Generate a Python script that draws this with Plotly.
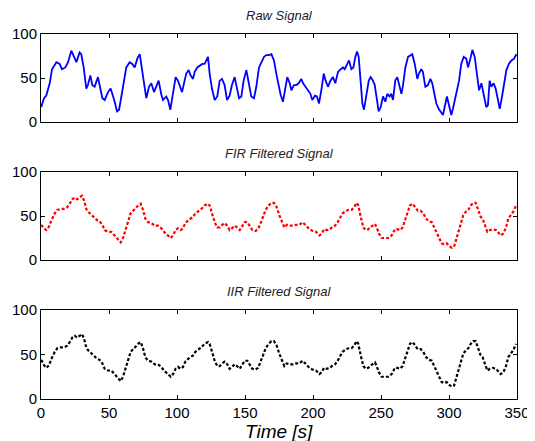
import plotly.graph_objects as go

# ---------------- data ----------------
raw_t = [0.2, 2.2, 3.9, 6.4, 8.1, 11.3, 13.7, 15.4, 17.9, 19.9, 22.3, 24.3, 26.0, 28.4, 29.6,
         31.4, 33.3, 34.5, 36.3, 37.7, 39.4, 41.9, 43.6, 45.1, 46.8, 49.3, 51.2, 52.9, 54.2,
         55.9, 57.4, 59.1, 61.0, 62.7, 65.2, 67.1, 68.9, 69.6, 70.8, 72.6, 74.3, 76.2, 77.4,
         79.4, 81.1, 83.1, 84.8, 86.5, 88.5, 89.7, 92.1, 93.4, 95.1, 97.1, 99.0, 100.7, 101.9,
         103.7, 105.6, 106.8, 108.6, 110.0, 111.8, 113.0, 114.9, 116.7, 118.6, 120.3, 121.6,
         122.8, 124.0, 125.7, 127.7, 129.6, 131.4, 133.1, 135.0, 136.8, 138.7, 140.4, 142.4,
         144.1, 145.6, 147.3, 149.0, 151.0, 152.7, 154.6, 156.6, 158.3, 160.3, 162.0, 164.0,
         165.7, 167.6, 169.4, 171.3, 173.0, 174.3, 176.2, 177.9, 179.6, 181.1, 182.9, 184.1,
         186.0, 187.7, 189.5, 191.4, 192.7, 194.3, 196.3, 198.1, 199.5, 201.5, 202.9, 204.4,
         206.1, 207.9, 209.3, 211.0, 212.8, 214.7, 216.4, 218.4, 220.4, 222.1, 223.3, 225.0,
         226.5, 228.2, 229.7, 231.1, 232.4, 233.6, 235.1, 236.3, 237.5, 239.2, 241.0, 242.4,
         244.1, 245.4, 246.6, 248.3, 249.8, 251.5, 253.2, 254.6, 256.3, 257.5, 258.8, 260.5,
         262.0, 263.5, 265.0, 266.2, 267.9, 269.9, 271.8, 273.0, 274.8, 276.7, 277.9, 279.6,
         280.8, 282.6, 284.5, 286.3, 287.7, 289.4, 290.7, 292.4, 293.9, 295.6, 296.8, 298.5,
         300.0, 301.7, 302.9, 304.2, 305.9, 307.4, 309.0, 310.8, 312.7, 314.0, 315.7, 317.2,
         318.9, 320.6, 322.1, 323.8, 325.5, 327.4, 328.6, 329.9, 331.1, 332.8, 334.3, 335.5,
         337.3, 339.0, 340.4, 342.2, 344.0, 345.9, 347.9, 349.5]
raw_v = [17, 27, 30, 44, 60, 68, 66, 60, 62, 68, 81, 74, 68, 79, 77,
         62, 38, 42, 53, 42, 40, 51, 40, 27, 25, 34, 38, 30, 23,
         12, 14, 29, 47, 62, 68, 66, 62, 66, 72, 77, 59, 38, 27,
         40, 44, 34, 40, 47, 31, 25, 29, 25, 14, 34, 51, 47, 42,
         34, 47, 55, 59, 53, 49, 57, 62, 64, 66, 66, 70,
         74, 55, 38, 25, 29, 47, 49, 42, 25, 30, 42, 51,
         36, 27, 29, 47, 59, 44, 29, 27, 40, 62, 68, 74,
         76, 76, 77, 70, 55, 45, 31, 23, 36, 51, 44, 36,
         42, 42, 44, 49, 44, 40, 36, 32, 25, 30, 29, 21,
         36, 55, 47, 40, 47, 51, 44, 57, 60, 62, 60, 66,
         70, 60, 62, 74, 80, 74, 44, 21, 14, 29, 47, 51,
         47, 42, 29, 12, 17, 29, 23, 32, 29, 32, 25, 47,
         51, 42, 32, 42, 62, 74, 76, 77, 66, 49, 55, 60,
         57, 40, 42, 49, 44, 32, 21, 15, 12, 8, 17, 29,
         19, 8, 15, 25, 36, 47, 66, 74, 72, 62, 72, 82,
         74, 51, 36, 44, 29, 17, 19, 47, 40, 44, 38, 29,
         15, 29, 44, 59, 66, 70, 72, 77]

fir_t = [0.2, 2.2, 3.9, 5.9, 7.6, 10.1, 12.0, 14.5, 16.9, 19.3, 21.1, 23.0, 24.8, 26.7, 28.4,
         30.1, 31.6, 33.3, 34.5, 37.0, 39.5, 41.4, 43.1, 45.1, 46.8, 49.3, 51.7, 54.2, 56.6,
         58.6, 60.3, 62.0, 64.0, 65.9, 68.4, 70.1, 72.1, 73.3, 75.0, 76.7, 78.7, 81.1, 83.6,
         86.0, 88.5, 90.4, 92.9, 95.4, 97.1, 99.0, 100.7, 102.7, 104.4, 106.1, 108.1, 110.1,
         111.8, 113.5, 115.4, 117.9, 120.3, 122.8, 124.0, 125.7, 127.7, 129.6, 131.4, 133.3,
         135.0, 137.0, 138.7, 140.4, 142.4, 144.1, 146.1, 147.8, 149.8, 151.7, 153.4, 155.4,
         157.6, 159.6, 161.5, 163.2, 165.2, 167.4, 169.4, 171.3, 173.3, 175.2, 177.0, 178.9,
         180.7, 182.6, 185.1, 187.5, 189.9, 192.4, 194.9, 197.3, 199.8, 202.2, 204.7, 206.4,
         208.1, 210.1, 212.5, 214.5, 216.2, 218.2, 219.9, 221.8, 223.5, 225.9, 228.4, 230.2,
         232.1, 233.3, 235.1, 237.0, 238.7, 240.7, 241.9, 243.9, 245.6, 246.8, 248.5, 250.5,
         252.9, 255.4, 257.9, 260.3, 262.0, 264.0, 265.9, 267.6, 269.3, 271.3, 273.3, 275.0,
         277.0, 279.2, 281.1, 283.1, 285.3, 287.3, 289.2, 290.9, 292.9, 294.6, 296.3, 298.3,
         300.0, 302.0, 303.7, 305.1, 306.8, 308.6, 310.5, 312.5, 314.2, 316.0, 317.9, 319.6,
         321.6, 323.3, 324.7, 326.5, 328.2, 330.1, 332.1, 334.6, 336.2, 338.0, 340.0, 341.9,
         343.6, 345.4, 347.3, 349.3]
fir_v = [40, 36, 34, 38, 45, 53, 57, 58, 58, 60, 64, 69, 71, 69, 71,
         73, 68, 58, 55, 51, 47, 45, 44, 40, 34, 32, 32, 28, 23,
         20, 25, 34, 45, 53, 57, 60, 63, 64, 57, 47, 43, 42, 39,
         39, 36, 32, 28, 25, 28, 34, 36, 34, 36, 42, 45, 47,
         49, 53, 55, 58, 62, 64, 62, 53, 43, 37, 37, 40,
         42, 39, 34, 36, 39, 37, 34, 38, 43, 43, 39, 34,
         33, 35, 42, 49, 57, 62, 65, 65, 60, 51, 43, 37,
         40, 39, 39, 40, 40, 43, 39, 35, 33, 32, 28, 30,
         35, 34, 35, 38, 39, 43, 48, 53, 55, 57, 57, 60,
         65, 62, 49, 37, 34, 35, 37, 39, 41, 37, 30, 25,
         25, 25, 28, 35, 35, 34, 37, 45, 55, 62, 64, 60,
         56, 56, 53, 47, 44, 43, 37, 32, 24, 19, 18, 19,
         16, 14, 15, 22, 30, 39, 51, 55, 57, 62, 65, 65,
         57, 49, 47, 39, 32, 34, 35, 34, 31, 28, 30, 37,
         47, 51, 55, 62]

iir_t = list(fir_t)
iir_v = [44, 38, 35, 38, 45, 53, 57, 58, 58, 60, 64, 69, 71, 69, 71,
         73, 68, 58, 55, 51, 47, 45, 44, 40, 34, 32, 32, 28, 23,
         20, 25, 34, 45, 53, 57, 60, 63, 64, 57, 47, 43, 42, 39,
         39, 36, 32, 28, 25, 28, 34, 36, 34, 36, 42, 45, 47,
         49, 53, 55, 58, 62, 64, 62, 53, 43, 37, 37, 40,
         42, 39, 34, 36, 39, 37, 34, 38, 43, 43, 39, 34,
         33, 35, 42, 49, 57, 62, 65, 65, 60, 51, 43, 37,
         40, 39, 39, 40, 40, 43, 39, 35, 33, 32, 28, 30,
         35, 34, 35, 38, 39, 43, 48, 53, 55, 57, 57, 60,
         65, 62, 49, 37, 34, 35, 37, 39, 41, 37, 30, 25,
         25, 25, 28, 35, 35, 34, 37, 45, 55, 62, 64, 60,
         56, 56, 53, 47, 44, 43, 37, 32, 24, 19, 18, 19,
         16, 14, 15, 22, 30, 39, 51, 55, 57, 62, 65, 65,
         57, 49, 47, 39, 32, 34, 35, 34, 31, 28, 30, 37,
         47, 51, 55, 62]

titles = ["Raw Signal", "FIR Filtered Signal", "IIR Filtered Signal"]
x_ticks = [0, 50, 100, 150, 200, 250, 300, 350]
y_ticks = [0, 50, 100]
x_label = "Time [s]"

# ---------------- figure ----------------
FONT = "Arial, Liberation Sans, Helvetica, sans-serif"
fig = go.Figure()

fig.add_trace(go.Scatter(x=raw_t, y=raw_v, mode="lines",
                         line=dict(color="#0000ff", width=1.8), xaxis="x", yaxis="y"))
fig.add_trace(go.Scatter(x=fir_t, y=fir_v, mode="lines",
                         line=dict(color="#ff0000", width=2.2, dash="3px,2px"),
                         xaxis="x2", yaxis="y2"))
fig.add_trace(go.Scatter(x=iir_t, y=iir_v, mode="lines",
                         line=dict(color="#000000", width=2.2, dash="3px,2px"),
                         xaxis="x3", yaxis="y3"))

domains = [[0.7589, 1.0], [0.3808, 0.6219], [0.0, 0.2438]]
names = ["", "2", "3"]
ax_common = dict(showline=True, linecolor="black", linewidth=1, mirror="ticks",
                 ticks="inside", ticklen=4, tickcolor="black", showgrid=False,
                 zeroline=False, automargin=False,
                 tickfont=dict(family=FONT, size=15, color="black"))
layout = {}
for i, n in enumerate(names):
    layout["xaxis" + n] = dict(ax_common, range=[0, 350], tickvals=x_ticks,
                               showticklabels=(i == 2), anchor="y" + n, domain=[0, 1])
    layout["yaxis" + n] = dict(ax_common, range=[0, 100], tickvals=y_ticks,
                               anchor="x" + n, domain=domains[i])
fig.update_layout(**layout)

annotations = []
for i, t in enumerate(titles):
    annotations.append(dict(text="<i>" + t + "</i>", xref="paper", yref="paper", x=0.5,
                            y=domains[i][1], yshift=9, xanchor="center", yanchor="bottom",
                            showarrow=False,
                            font=dict(family=FONT, size=13, color="#222222")))
annotations.append(dict(text="<i>" + x_label + "</i>", xref="paper", yref="paper",
                        x=0.5, y=0, yshift=-20, xanchor="center", yanchor="top",
                        showarrow=False, font=dict(family=FONT, size=19, color="black")))

# the page body adds an 8px offset, so the figure is drawn 8px smaller
fig.update_layout(width=527, height=433, margin=dict(l=33, r=18, t=26, b=42),
                  paper_bgcolor="white", plot_bgcolor="white", showlegend=False,
                  annotations=annotations)

fig.write_html("out.html")
